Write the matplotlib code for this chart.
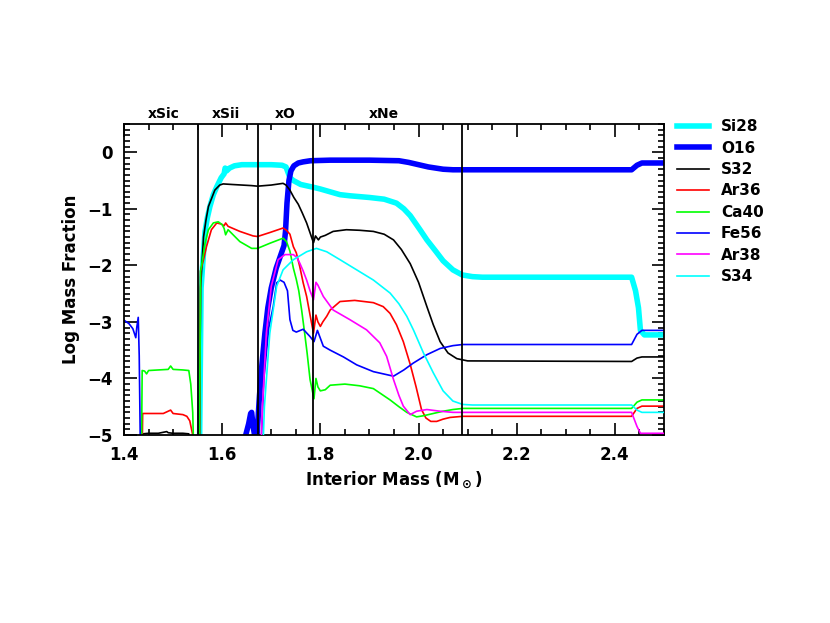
import numpy as np
import matplotlib
matplotlib.use("Agg")
import matplotlib.pyplot as plt
from matplotlib.ticker import MultipleLocator

# interior mass (Msun) / log mass fraction
# values below -5 are just off the bottom of the plot
si28_x = [1.553, 1.557, 1.561, 1.565, 1.570, 1.575, 1.582, 1.589, 1.598, 1.604, 1.606, 1.609, 1.615,
          1.625, 1.64, 1.66, 1.70, 1.722, 1.730, 1.738, 1.745, 1.76, 1.786, 1.80, 1.82, 1.84, 1.86,
          1.90, 1.93, 1.955, 1.97, 1.983, 2.003, 2.017, 2.035, 2.05, 2.07, 2.089, 2.11, 2.13,
          2.434, 2.442, 2.448, 2.452, 2.46, 2.5]
si28_y = [-6, -2.4, -1.9, -1.4, -1.15, -0.96, -0.75, -0.61, -0.45, -0.38, -0.28, -0.33, -0.28,
          -0.24, -0.22, -0.22, -0.22, -0.23, -0.26, -0.45, -0.50, -0.57, -0.62, -0.65, -0.70, -0.75, -0.77,
          -0.80, -0.83, -0.90, -1.0, -1.12, -1.37, -1.55, -1.75, -1.92, -2.08, -2.17, -2.20, -2.21,
          -2.21, -2.45, -2.75, -3.15, -3.23, -3.23]

o16_x = [1.640, 1.648, 1.654, 1.658, 1.660, 1.663, 1.667, 1.671, 1.676, 1.681, 1.687, 1.693, 1.700,
         1.710, 1.720, 1.726, 1.729, 1.732, 1.736, 1.740, 1.746, 1.755, 1.765, 1.78, 1.82, 1.90,
         1.96, 1.98, 2.00, 2.02, 2.05, 2.07, 2.09, 2.434, 2.445, 2.455, 2.5]
o16_y = [-6, -5.0, -4.8, -4.62, -4.6, -4.85, -5.05, -5.0, -4.3, -3.75, -3.2, -2.75, -2.4,
         -2.05, -1.8, -1.65, -1.4, -0.9, -0.5, -0.33, -0.24, -0.19, -0.17, -0.15, -0.14, -0.14,
         -0.15, -0.18, -0.22, -0.26, -0.30, -0.31, -0.31, -0.31, -0.23, -0.19, -0.19]

s32_x = [1.436, 1.438, 1.45, 1.47, 1.487, 1.49, 1.50, 1.52, 1.532, 1.536, 1.553, 1.556, 1.562,
         1.567, 1.572, 1.585, 1.595, 1.602, 1.62, 1.64, 1.66, 1.672, 1.70, 1.724, 1.730, 1.738,
         1.746, 1.755, 1.763, 1.772, 1.780, 1.786, 1.790, 1.796, 1.80, 1.81, 1.826, 1.853, 1.88,
         1.908, 1.93, 1.949, 1.965, 1.983, 2.0, 2.017, 2.03, 2.044, 2.06, 2.078, 2.10, 2.434,
         2.445, 2.455, 2.5]
s32_y = [-6, -4.98, -4.97, -4.97, -4.94, -4.96, -4.97, -4.97, -4.98, -6, -6, -2.4, -1.5,
         -1.2, -0.96, -0.67, -0.58, -0.56, -0.57, -0.58, -0.59, -0.60, -0.58, -0.55, -0.58, -0.67,
         -0.8, -0.92, -1.07, -1.25, -1.45, -1.60, -1.48, -1.55, -1.50, -1.47, -1.40, -1.37, -1.38,
         -1.40, -1.45, -1.55, -1.72, -1.97, -2.30, -2.73, -3.05, -3.35, -3.55, -3.65, -3.69, -3.70,
         -3.64, -3.62, -3.62]

ar36_x = [1.436, 1.438, 1.45, 1.48, 1.495, 1.50, 1.52, 1.528, 1.534, 1.540, 1.544, 1.553, 1.556,
          1.562, 1.568, 1.578, 1.589, 1.598, 1.604, 1.607, 1.612, 1.636, 1.663, 1.672, 1.697, 1.724,
          1.731, 1.738, 1.745, 1.751, 1.758, 1.765, 1.772, 1.779, 1.786, 1.791, 1.795, 1.800, 1.805,
          1.813, 1.820, 1.84, 1.87, 1.908, 1.928, 1.942, 1.955, 1.969, 1.983, 1.995, 2.006, 2.015,
          2.025, 2.037, 2.05, 2.064, 2.09, 2.434, 2.445, 2.455, 2.5]
ar36_y = [-6, -4.62, -4.62, -4.62, -4.56, -4.62, -4.64, -4.67, -4.75, -5.0, -6, -6, -2.1,
          -1.90, -1.67, -1.37, -1.25, -1.27, -1.30, -1.25, -1.31, -1.40, -1.48, -1.49, -1.42, -1.34,
          -1.38, -1.45, -1.67, -1.78, -2.02, -2.31, -2.55, -2.88, -3.20, -2.88, -3.0, -3.08, -3.0,
          -2.90, -2.79, -2.64, -2.62, -2.66, -2.73, -2.85, -3.05, -3.35, -3.75, -4.15, -4.55, -4.70,
          -4.76, -4.76, -4.72, -4.69, -4.67, -4.67, -4.53, -4.49, -4.49]

ca40_x = [1.435, 1.437, 1.442, 1.446, 1.45, 1.47, 1.49, 1.495, 1.50, 1.52, 1.532, 1.536, 1.540,
          1.544, 1.553, 1.556, 1.560, 1.565, 1.572, 1.582, 1.592, 1.600, 1.604, 1.607, 1.612, 1.636,
          1.660, 1.672, 1.697, 1.724, 1.731, 1.738, 1.745, 1.751, 1.756, 1.762, 1.768, 1.773, 1.779,
          1.787, 1.791, 1.795, 1.800, 1.810, 1.82, 1.85, 1.88, 1.908, 1.942, 1.96, 1.976, 1.996,
          2.01, 2.03, 2.05, 2.07, 2.09, 2.434, 2.445, 2.455, 2.5]
ca40_y = [-6, -3.86, -3.87, -3.92, -3.86, -3.85, -3.84, -3.78, -3.84, -3.85, -3.86, -4.1, -4.6,
          -6, -6, -2.1, -1.90, -1.61, -1.37, -1.25, -1.23, -1.28, -1.35, -1.46, -1.37, -1.58,
          -1.70, -1.70, -1.61, -1.52, -1.58, -1.75, -2.05, -2.25, -2.45, -2.8, -3.2, -3.55, -4.02,
          -4.36, -4.0, -4.15, -4.22, -4.20, -4.12, -4.10, -4.13, -4.18, -4.38, -4.50, -4.60, -4.68,
          -4.66, -4.62, -4.58, -4.55, -4.53, -4.53, -4.42, -4.38, -4.38]

fe56_x = [1.400, 1.410, 1.418, 1.424, 1.426, 1.429, 1.431, 1.433, 1.435, 1.675, 1.685, 1.695,
          1.704, 1.711, 1.718, 1.726, 1.733, 1.738, 1.744, 1.751, 1.765, 1.779, 1.787, 1.794,
          1.806, 1.82, 1.847, 1.874, 1.908, 1.949, 1.97, 1.989, 2.017, 2.044, 2.07, 2.09, 2.12,
          2.434, 2.445, 2.455, 2.5]
fe56_y = [-2.97, -3.03, -3.12, -3.28, -3.10, -2.92, -3.6, -5.0, -6, -6, -4.0, -3.1,
          -2.73, -2.31, -2.26, -2.30, -2.45, -2.96, -3.15, -3.18, -3.13, -3.26, -3.35, -3.15,
          -3.43, -3.50, -3.62, -3.76, -3.88, -3.96, -3.85, -3.73, -3.58, -3.47, -3.42, -3.40, -3.40,
          -3.40, -3.22, -3.15, -3.15]

ar38_x = [1.676, 1.682, 1.690, 1.700, 1.714, 1.728, 1.745, 1.752, 1.758, 1.765, 1.772, 1.779,
          1.786, 1.791, 1.795, 1.806, 1.826, 1.86, 1.894, 1.921, 1.935, 1.949, 1.96, 1.969, 1.983,
          1.996, 2.017, 2.044, 2.07, 2.09, 2.434, 2.445, 2.452, 2.5]
ar38_y = [-6, -4.5, -3.2, -2.37, -1.90, -1.81, -1.81, -1.86, -1.96, -2.10, -2.26, -2.45,
          -2.61, -2.3, -2.35, -2.55, -2.79, -2.96, -3.14, -3.37, -3.61, -4.02, -4.3, -4.49, -4.64,
          -4.58, -4.55, -4.58, -4.60, -4.60, -4.60, -4.85, -4.97, -4.97]

s34_x = [1.680, 1.686, 1.697, 1.711, 1.724, 1.745, 1.772, 1.792, 1.813, 1.84, 1.874, 1.908, 1.942,
         1.96, 1.976, 1.99, 2.01, 2.03, 2.05, 2.07, 2.09, 2.11, 2.434, 2.445, 2.455, 2.5]
s34_y = [-6, -4.5, -3.2, -2.37, -2.08, -1.90, -1.76, -1.70, -1.76, -1.90, -2.08, -2.26, -2.49,
         -2.68, -2.90, -3.15, -3.55, -3.90, -4.22, -4.40, -4.46, -4.47, -4.47, -4.56, -4.60, -4.60]

# zone boundaries and names
zone_edges = [1.550, 1.672, 1.786, 2.089]
zone_names = ["xSic", "xSii", "xO", "xNe"]
zone_label_x = [1.481, 1.607, 1.728, 1.93]

curves = [
    ("Si28", si28_x, si28_y, "#00FFFF", 4.0),
    ("O16", o16_x, o16_y, "#0000FF", 4.0),
    ("S32", s32_x, s32_y, "black", 1.2),
    ("Ar36", ar36_x, ar36_y, "#FF0000", 1.2),
    ("Ca40", ca40_x, ca40_y, "#00FF00", 1.2),
    ("Fe56", fe56_x, fe56_y, "#0000FF", 1.2),
    ("Ar38", ar38_x, ar38_y, "#FF00FF", 1.2),
    ("S34", s34_x, s34_y, "#00FFFF", 1.2),
]

plt.rcParams['font.family'] = ['DejaVu Sans']
plt.rcParams['font.weight'] = 'bold'

fig = plt.figure(figsize=(8.3, 6.23), dpi=100)
ax = fig.add_axes([0.1494, 0.3018, 0.6506, 0.4992])

handles = []
for i, (name, xs, ys, col, lw) in enumerate(curves):
    h, = ax.plot(xs, ys, color=col, lw=lw, label=name, zorder=2 + i * 0.1,
                 solid_joinstyle='round')
    handles.append(h)

for xe in zone_edges:
    ax.axvline(xe, color='black', lw=1.3, zorder=5)

for name, xl in zip(zone_names, zone_label_x):
    ax.text(xl, 1.032, name, transform=ax.get_xaxis_transform(), ha='center', va='center',
            fontsize=10, fontweight='bold')

ax.set_xlim(1.4, 2.5)
ax.set_ylim(-5.0, 0.5)
ax.xaxis.set_major_locator(MultipleLocator(0.2))
ax.xaxis.set_minor_locator(MultipleLocator(0.05))
ax.yaxis.set_major_locator(MultipleLocator(1))
ax.yaxis.set_minor_locator(MultipleLocator(0.1))
ax.tick_params(which='both', direction='in', top=True, right=True, width=1.2,
               labelsize=12, pad=8)
ax.tick_params(which='major', length=9)
ax.tick_params(which='minor', length=4.5)
for sp in ax.spines.values():
    sp.set_linewidth(1.3)

ax.set_xlabel(r"Interior Mass (M$_\odot$)", fontsize=12, fontweight='bold', labelpad=4)
ax.set_ylabel("Log Mass Fraction", fontsize=12, fontweight='bold', labelpad=5)

ax.legend(handles=handles, loc='upper left', bbox_to_anchor=(1.012, 1.035), frameon=False,
          fontsize=11, handlelength=2.1, handletextpad=0.8, labelspacing=0.42,
          borderaxespad=0.0)

fig.savefig("out.png", dpi=100)
